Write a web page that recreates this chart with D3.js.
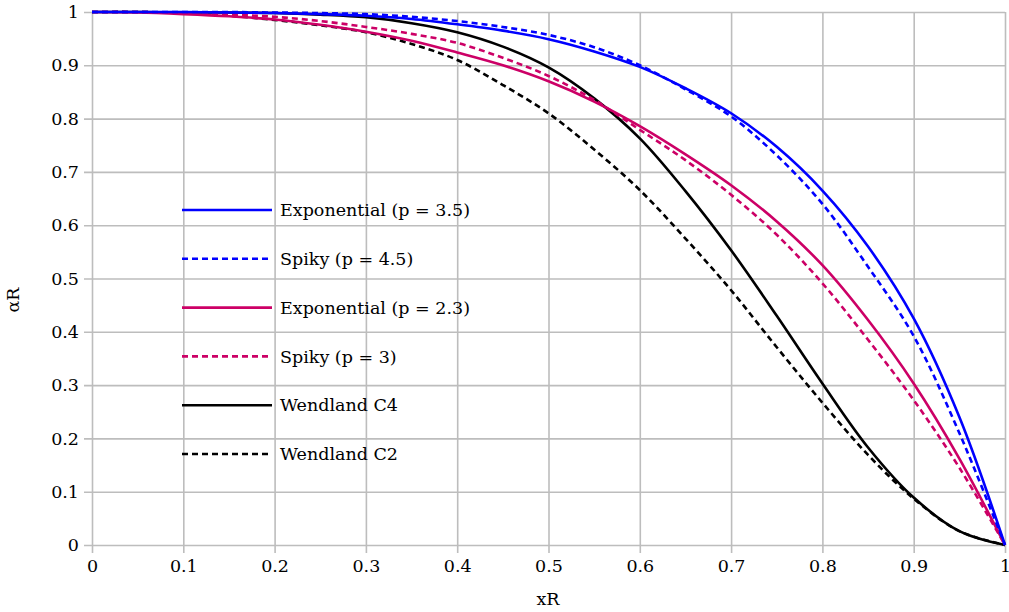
<!DOCTYPE html>
<html><head><meta charset="utf-8">
<script src="https://cdn.jsdelivr.net/npm/d3@7"></script>
<style>
html,body{margin:0;padding:0;background:#fff;}
svg text{font-family:"DejaVu Serif",serif;fill:#000;}
</style></head>
<body><svg id="c" width="1009" height="612"></svg>
<script>
const xs = [0,0.05,0.1,0.15,0.2,0.25,0.3,0.35,0.4,0.45,0.5,0.55,0.6,0.65,0.7,0.75,0.8,0.85,0.9,0.95,1];
const expo35  = [1,1,1,0.999,0.998,0.996,0.993,0.987,0.977,0.965,0.949,0.926,0.897,0.857,0.81,0.747,0.665,0.56,0.425,0.24,0];
const spiky45 = [1,1,1,1,0.999,0.998,0.996,0.991,0.983,0.972,0.957,0.934,0.9,0.855,0.804,0.731,0.64,0.522,0.392,0.21,0];
const expo23  = [1,0.999,0.996,0.992,0.986,0.976,0.963,0.946,0.924,0.9,0.87,0.832,0.786,0.733,0.675,0.607,0.525,0.422,0.303,0.162,0];
const spiky3  = [1,1,0.998,0.995,0.991,0.983,0.972,0.959,0.942,0.914,0.88,0.835,0.779,0.722,0.657,0.582,0.491,0.385,0.272,0.145,0];
const wendC4  = [1,1,0.999,0.999,0.998,0.995,0.99,0.979,0.962,0.935,0.896,0.838,0.763,0.664,0.553,0.43,0.303,0.183,0.089,0.026,0];
const wendC2  = [1,1,0.998,0.993,0.985,0.975,0.962,0.94,0.91,0.863,0.81,0.742,0.666,0.575,0.478,0.371,0.267,0.169,0.087,0.026,0];
const seriesNames = ["Exponential (p = 3.5)","Spiky (p = 4.5)","Exponential (p = 2.3)","Spiky (p = 3)","Wendland C4","Wendland C2"];
const seriesValues = [expo35, spiky45, expo23, spiky3, wendC4, wendC2];
const seriesColors = ["#0000ff","#0000ff","#cc0066","#cc0066","#000000","#000000"];
const seriesDashed = [false,true,false,true,false,true];
const xTicks = [0,0.1,0.2,0.3,0.4,0.5,0.6,0.7,0.8,0.9,1];
const yTicks = [0,0.1,0.2,0.3,0.4,0.5,0.6,0.7,0.8,0.9,1];
const xTitle = "xR", yTitle = "αR";

const svg = d3.select("#c");
const m = {l:92, r:1005, t:12, b:545};
const x = d3.scaleLinear().domain([0,1]).range([m.l, m.r]);
const y = d3.scaleLinear().domain([0,1]).range([m.b, m.t]);
const grid = "#bdbdbd";
const fs = 17.5;

const gx = svg.append("g").attr("transform",`translate(0,${m.b})`)
  .call(d3.axisBottom(x).tickValues(xTicks).tickFormat(d3.format("~g")).tickSize(-(m.b-m.t)).tickSizeOuter(0));
gx.select(".domain").remove();
gx.selectAll(".tick line").attr("stroke",grid).attr("stroke-width",1.6).attr("y1",8);
gx.selectAll(".tick text").attr("font-size",fs).attr("y",15);

const gy = svg.append("g").attr("transform",`translate(${m.l},0)`)
  .call(d3.axisLeft(y).tickValues(yTicks).tickFormat(d3.format("~g")).tickSize(-(m.r-m.l)).tickSizeOuter(0));
gy.select(".domain").remove();
gy.selectAll(".tick line").attr("stroke",grid).attr("stroke-width",1.6).attr("x1",-8);
gy.selectAll(".tick text").attr("font-size",fs).attr("x",-13);

svg.append("text").attr("x",548).attr("y",605).attr("text-anchor","middle").attr("font-size",fs).text(xTitle);
svg.append("text").attr("transform","translate(19,300) rotate(-90)").attr("text-anchor","middle").attr("font-size",fs).text(yTitle);

const line = d3.line().x((d,i)=>x(xs[i])).y(d=>y(d)).curve(d3.curveCatmullRom.alpha(0.5));
const order = [5,4,3,2,1,0];
order.forEach(k=>{
  svg.append("path").attr("d",line(seriesValues[k])).attr("fill","none")
    .attr("stroke",seriesColors[k]).attr("stroke-width",2.6)
    .attr("stroke-dasharray",seriesDashed[k]?"6,4":null);
});

const leg = svg.append("g");
seriesNames.forEach((n,i)=>{
  const yy = 210 + i*48.8;
  leg.append("line").attr("x1",182).attr("x2",272).attr("y1",yy).attr("y2",yy)
    .attr("stroke",seriesColors[i]).attr("stroke-width",2.6)
    .attr("stroke-dasharray",seriesDashed[i]?"6,4":null);
  leg.append("text").attr("x",280).attr("y",yy).attr("dy","0.35em").attr("font-size",fs).text(n);
});
</script></body></html>
